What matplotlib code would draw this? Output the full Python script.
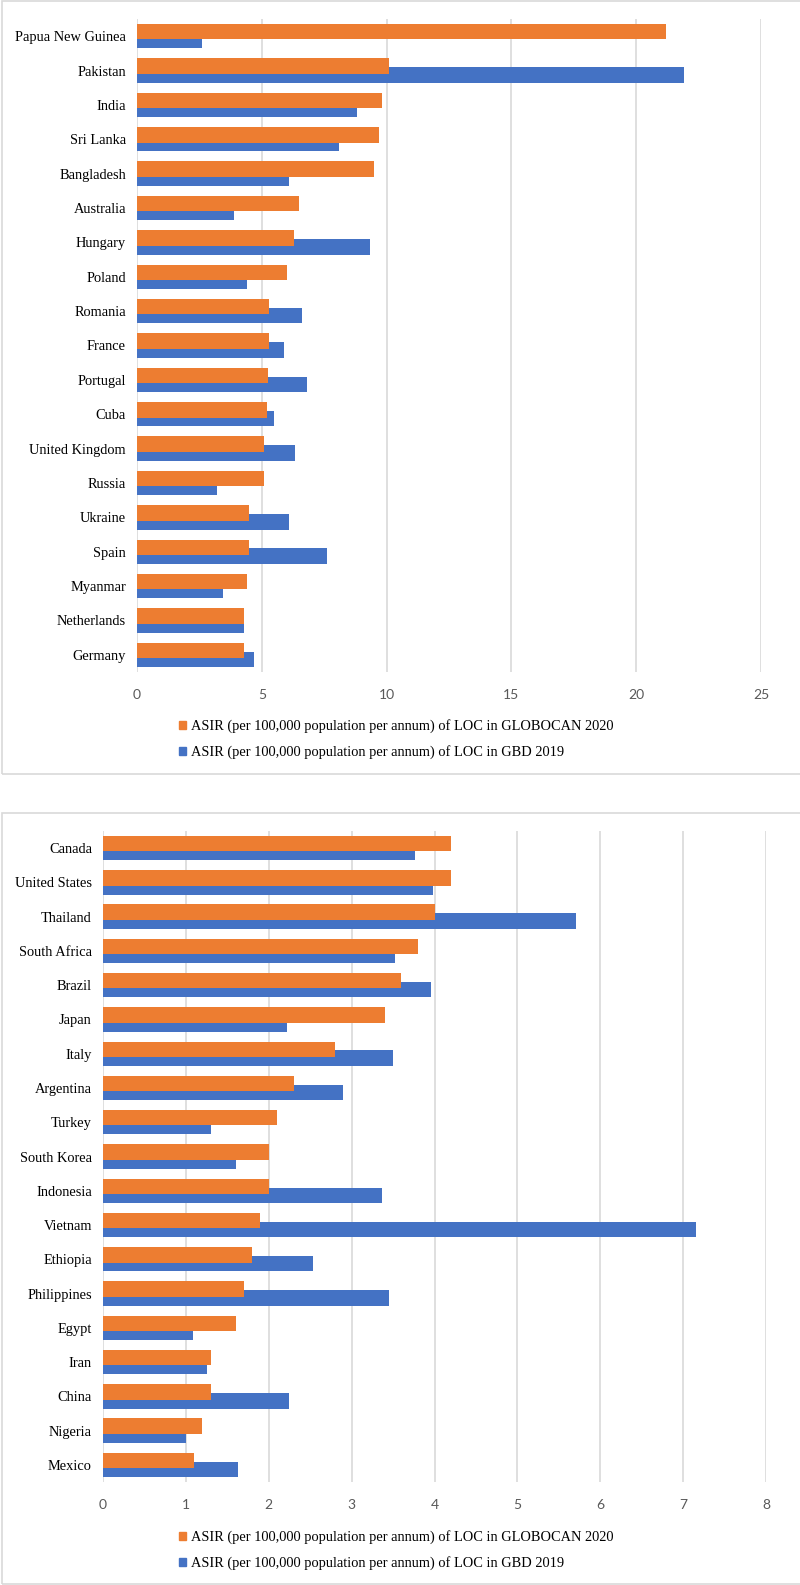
import matplotlib.pyplot as plt
import numpy as np
from matplotlib.patches import Patch, Rectangle

# top chart
countries_top = ['Papua New Guinea', 'Pakistan', 'India', 'Sri Lanka', 'Bangladesh',
                 'Australia', 'Hungary', 'Poland', 'Romania', 'France', 'Portugal',
                 'Cuba', 'United Kingdom', 'Russia', 'Ukraine', 'Spain', 'Myanmar',
                 'Netherlands', 'Germany']
globocan_top = [21.2, 10.1, 9.8, 9.7, 9.5, 6.5, 6.3, 6.0, 5.3, 5.3, 5.25,
                5.2, 5.1, 5.1, 4.5, 4.5, 4.4, 4.3, 4.3]
gbd_top = [2.6, 21.9, 8.8, 8.1, 6.1, 3.9, 9.35, 4.4, 6.6, 5.9, 6.8,
           5.5, 6.35, 3.2, 6.1, 7.6, 3.45, 4.3, 4.7]
ticks_top = [0, 5, 10, 15, 20, 25]

# bottom chart
countries_bot = ['Canada', 'United States', 'Thailand', 'South Africa', 'Brazil',
                 'Japan', 'Italy', 'Argentina', 'Turkey', 'South Korea', 'Indonesia',
                 'Vietnam', 'Ethiopia', 'Philippines', 'Egypt', 'Iran', 'China',
                 'Nigeria', 'Mexico']
globocan_bot = [4.2, 4.2, 4.0, 3.8, 3.6, 3.4, 2.8, 2.3, 2.1, 2.0, 2.0,
                1.9, 1.8, 1.7, 1.6, 1.3, 1.3, 1.2, 1.1]
gbd_bot = [3.76, 3.98, 5.71, 3.52, 3.96, 2.22, 3.5, 2.9, 1.3, 1.61, 3.37,
           7.16, 2.53, 3.45, 1.08, 1.26, 2.25, 1.0, 1.63]
ticks_bot = [0, 1, 2, 3, 4, 5, 6, 7, 8]

lab_orange = 'ASIR (per 100,000 population per annum) of LOC in GLOBOCAN 2020'
lab_blue = 'ASIR (per 100,000 population per annum) of LOC in GBD 2019'

ORANGE = '#ED7D31'
BLUE = '#4472C4'
GRID = '#d9d9d9'

W, H = 800, 1585
fig = plt.figure(figsize=(W / 100, H / 100), dpi=100)


def px_rect(x0, y0, x1, y1):
    """pixel box (top-left origin) -> figure fractions"""
    return [x0 / W, 1 - y1 / H, (x1 - x0) / W, (y1 - y0) / H]


def panel(box, names, orange, blue, ticks, leg_y):
    ax = fig.add_axes(px_rect(*box))
    idx = np.arange(len(names))
    h = 0.45
    ax.barh(idx + 0.13, blue, h, color=BLUE, zorder=2)
    ax.barh(idx - 0.13, orange, h, color=ORANGE, zorder=3)
    ax.set_ylim(len(names) - 0.5, -0.5)
    ax.set_xlim(ticks[0], ticks[-1])
    ax.set_xticks(ticks)
    ax.set_xticklabels([str(t) for t in ticks], family='Lato', fontsize=10, color='#595959')
    ax.set_yticks(idx)
    ax.set_yticklabels(names, family='Liberation Serif', fontsize=10.4, color='black')
    ax.tick_params(axis='both', length=0)
    ax.tick_params(axis='x', pad=12)
    ax.tick_params(axis='y', pad=8)
    for s in ax.spines.values():
        s.set_visible(False)
    ax.grid(axis='x', color=GRID, linewidth=1.2, zorder=0)
    ax.set_axisbelow(True)

    handles = [Patch(color=ORANGE), Patch(color=BLUE)]
    fig.legend(handles, [lab_orange, lab_blue], loc='upper left',
               bbox_to_anchor=(179 / W, 1 - leg_y / H), frameon=False,
               prop={'family': 'Liberation Serif', 'size': 10.4},
               handlelength=0.5, handleheight=0.5, handletextpad=0.3,
               labelspacing=0.85, borderaxespad=0, borderpad=0)
    return ax


# light gray frames round each chart
fig.patches.append(Rectangle((2 / W, 1 - 774 / H), 1.0, 773 / H, transform=fig.transFigure,
                             fill=False, edgecolor=GRID, linewidth=1.2))
fig.patches.append(Rectangle((2 / W, 1 - 1584 / H), 1.0, 771 / H, transform=fig.transFigure,
                             fill=False, edgecolor=GRID, linewidth=1.2))

panel((137, 19, 761, 672), countries_top, globocan_top, gbd_top, ticks_top, 719)
panel((103, 831, 766, 1482), countries_bot, globocan_bot, gbd_bot, ticks_bot, 1530)

plt.savefig('out.png', dpi=100)
